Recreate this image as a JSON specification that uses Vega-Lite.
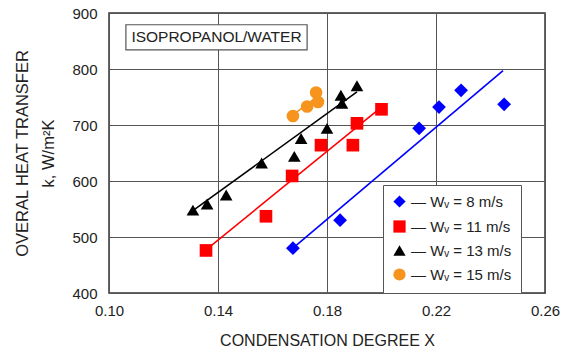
{
  "$schema": "https://vega.github.io/schema/vega-lite/v6.json",
  "autosize": "none",
  "padding": {"left": 109, "top": 13, "right": 34, "bottom": 63},
  "width": 436,
  "height": 280,
  "config": {
    "font": "Liberation Sans",
    "view": {"stroke": "#333333", "strokeWidth": 1.5},
    "axis": {
      "domain": false, "ticks": false, "labelFlush": false,
      "grid": true, "gridColor": "#555555", "gridWidth": 1, "gridOpacity": 1,
      "labelFont": "Liberation Sans", "labelFontSize": 15, "labelColor": "#222222",
      "titleFont": "Liberation Sans", "titleFontSize": 16, "titleFontWeight": "normal", "titleColor": "#222222"
    }
  },
  "datasets": {
    "points": [
      {"series": "8", "x": 0.1675, "k": 480},
      {"series": "8", "x": 0.1848, "k": 530},
      {"series": "8", "x": 0.2138, "k": 694},
      {"series": "8", "x": 0.2211, "k": 732},
      {"series": "8", "x": 0.2292, "k": 762},
      {"series": "8", "x": 0.2450, "k": 737},
      {"series": "11", "x": 0.1356, "k": 476},
      {"series": "11", "x": 0.1576, "k": 537},
      {"series": "11", "x": 0.1672, "k": 609},
      {"series": "11", "x": 0.1778, "k": 664},
      {"series": "11", "x": 0.1895, "k": 664},
      {"series": "11", "x": 0.1910, "k": 703},
      {"series": "11", "x": 0.2000, "k": 728},
      {"series": "13", "x": 0.1308, "k": 548},
      {"series": "13", "x": 0.1360, "k": 559},
      {"series": "13", "x": 0.1430, "k": 575},
      {"series": "13", "x": 0.1560, "k": 632},
      {"series": "13", "x": 0.1680, "k": 644},
      {"series": "13", "x": 0.1705, "k": 676},
      {"series": "13", "x": 0.1800, "k": 694},
      {"series": "13", "x": 0.1851, "k": 753},
      {"series": "13", "x": 0.1855, "k": 739},
      {"series": "13", "x": 0.1910, "k": 770},
      {"series": "15", "x": 0.1675, "k": 716},
      {"series": "15", "x": 0.1727, "k": 733},
      {"series": "15", "x": 0.1760, "k": 758},
      {"series": "15", "x": 0.1767, "k": 741}
    ],
    "lines": [
      {"series": "8", "x": 0.1675, "k": 480},
      {"series": "8", "x": 0.2446, "k": 797},
      {"series": "11", "x": 0.1356, "k": 477},
      {"series": "11", "x": 0.2002, "k": 733},
      {"series": "13", "x": 0.1290, "k": 541},
      {"series": "13", "x": 0.1910, "k": 759},
      {"series": "15", "x": 0.1675, "k": 718},
      {"series": "15", "x": 0.1774, "k": 754}
    ],
    "note": [
      {"label": "ISOPROPANOL/WATER", "x1": 0.1062, "x2": 0.1727, "y1": 834, "y2": 879, "xc": 0.13945, "yc": 856.5}
    ]
  },
  "layer": [
    {
      "data": {"name": "note"},
      "mark": {"type": "rect", "fill": "white", "stroke": "#555555", "strokeWidth": 1.2},
      "encoding": {
        "x": {"field": "x1", "type": "quantitative", "scale": {"domain": [0.10, 0.26], "nice": false},
              "axis": {"grid": true, "values": [0.10, 0.14, 0.18, 0.22, 0.26], "format": ".2f", "title": "CONDENSATION DEGREE X", "labelPadding": 10, "titlePadding": 14}},
        "x2": {"field": "x2"},
        "y": {"field": "y1", "type": "quantitative", "scale": {"domain": [400, 900], "nice": false},
              "axis": {"grid": true, "values": [400, 500, 600, 700, 800, 900], "title": ["OVERAL HEAT TRANSFER", "k, W/m²K"], "labelPadding": 12, "titlePadding": 15, "titleLineHeight": 26, "titleFontSize": 16.5}},
        "y2": {"field": "y2"}
      }
    },
    {
      "data": {"name": "note"},
      "mark": {"type": "text", "fontSize": 15.5, "font": "Liberation Sans", "color": "#222222"},
      "encoding": {
        "x": {"field": "xc", "type": "quantitative"},
        "y": {"field": "yc", "type": "quantitative"},
        "text": {"field": "label"}
      }
    },
    {
      "data": {"name": "lines"},
      "mark": {"type": "line", "strokeWidth": 1.6},
      "encoding": {
        "x": {"field": "x", "type": "quantitative"},
        "y": {"field": "k", "type": "quantitative"},
        "detail": {"field": "series"},
        "stroke": {"field": "series", "type": "nominal", "legend": null,
                  "scale": {"domain": ["8", "11", "13", "15"], "range": ["#0000ff", "#ff0000", "#000000", "#f7941d"]}}
      }
    },
    {
      "data": {"name": "points"},
      "mark": {"type": "point", "filled": true, "opacity": 1},
      "encoding": {
        "x": {"field": "x", "type": "quantitative"},
        "y": {"field": "k", "type": "quantitative"},
        "fill": {"field": "series", "type": "nominal",
                  "scale": {"domain": ["8", "11", "13", "15"], "range": ["#0000ff", "#ff0000", "#000000", "#f7941d"]},
                  "legend": {
                    "title": null, "orient": "none", "legendX": 274, "legendY": 172,
                    "fillColor": "white", "strokeColor": "#555555", "padding": 9,
                    "labelFont": "Liberation Sans", "labelFontSize": 15, "labelColor": "#222222",
                    "symbolSize": 150, "rowPadding": 6, "labelOffset": 4,
                    "labelExpr": "datum.value == '8' ? '— Wᵥ =   8 m/s' : '— Wᵥ = ' + datum.value + ' m/s'"
                  }},
        "shape": {"field": "series", "type": "nominal",
                  "scale": {"domain": ["8", "11", "13", "15"], "range": ["diamond", "square", "triangle-up", "circle"]}},
        "size": {"condition": {"test": "datum.series == '8'", "value": 190}, "value": 160}
      }
    }
  ],
  "resolve": {"scale": {"stroke": "independent"}}
}
